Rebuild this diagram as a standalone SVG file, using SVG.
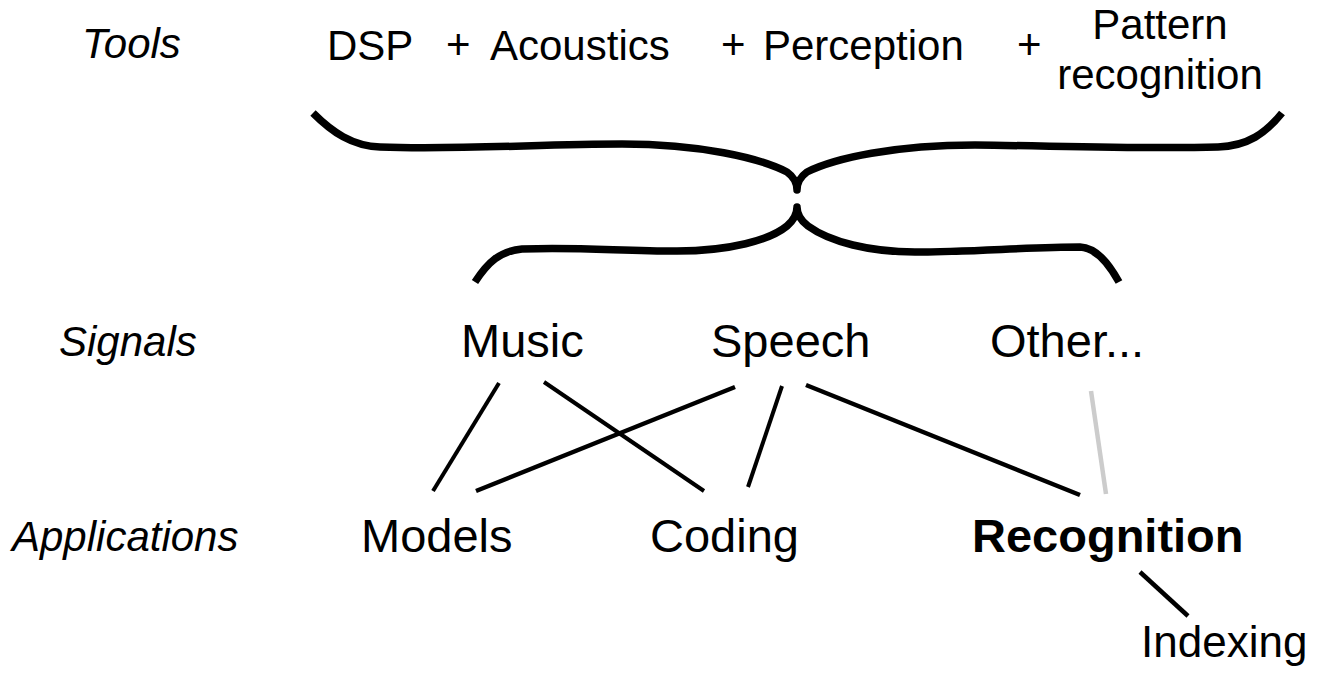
<svg xmlns="http://www.w3.org/2000/svg" width="1323" height="683" viewBox="0 0 1323 683">
  <style>
    text { font-family: "Liberation Sans", Arial, sans-serif; fill: #000; }
    .lbl { font-style: italic; font-size: 42px; }
    .tool { font-size: 42px; }
    .main { font-size: 47px; }
    .bold { font-size: 47px; font-weight: bold; }
    .brace { fill: none; stroke: #000; stroke-width: 7.5; stroke-linecap: butt; stroke-linejoin: round; }
    .edge { stroke: #000; stroke-width: 4.5; stroke-linecap: butt; }
    .edge.thin { stroke-width: 4; }
    .edge.faint { stroke: #cccccc; }
  </style>
  <rect width="1323" height="683" fill="#fff"/>

  <!-- row labels -->
  <g id="row-labels">
    <text class="lbl" x="82" y="58">Tools</text>
    <text class="lbl" x="59" y="356">Signals</text>
    <text class="lbl" x="12" y="551">Applications</text>
  </g>

  <!-- tools -->
  <g id="tools">
    <text class="tool" x="327" y="60">DSP</text>
    <text class="tool" x="446" y="59">+</text>
    <text class="tool" x="490" y="60">Acoustics</text>
    <text class="tool" x="721" y="59">+</text>
    <text class="tool" x="763" y="60">Perception</text>
    <text class="tool" x="1017" y="59">+</text>
    <text class="tool" x="1160" y="39" text-anchor="middle">Pattern</text>
    <text class="tool" x="1160" y="89" text-anchor="middle">recognition</text>
  </g>

  <!-- braces joining tools and signals -->
  <g id="braces">
    <path class="brace" d="M313,113 C332,132 352,146 380,147 C460,150 540,144 622,144 C700,144 760,158 787,172 C794,177 797,183 797,190 C797,183 800,177 807,172 C835,158 895,145 975,145 C1060,146 1140,149 1218,147 C1248,146 1266,133 1282,113"/>
    <path class="brace" d="M475,282 C488,262 500,251 522,249 C580,247 620,251 677,251 C730,251 770,240 787,226 C794,220 797,214 797,207 C797,214 800,220 808,226 C830,242 870,252 915,252 C970,252 1030,247 1080,247 C1096,248 1108,262 1119,282"/>
  </g>

  <!-- signals -->
  <g id="music"><text class="main" x="461" y="357">Music</text></g>
  <g id="speech"><text class="main" x="711" y="357">Speech</text></g>
  <g id="other"><text class="main" x="990" y="357">Other...</text></g>

  <!-- applications -->
  <g id="models"><text class="main" x="361" y="552">Models</text></g>
  <g id="coding"><text class="main" x="650" y="552">Coding</text></g>
  <g id="recognition"><text class="bold" x="972" y="552">Recognition</text></g>
  <g id="indexing"><text class="main" style="font-size:44px" x="1141" y="657">Indexing</text></g>

  <!-- connectors -->
  <g id="connectors">
    <line class="edge thin" x1="499" y1="383" x2="433" y2="491"/>
    <line class="edge thin" x1="544" y1="382" x2="704" y2="491"/>
    <line class="edge" x1="735" y1="387" x2="476" y2="491"/>
    <line class="edge thin" x1="782" y1="386" x2="748" y2="487"/>
    <line class="edge" x1="806" y1="385" x2="1080" y2="495"/>
    <line class="edge faint" x1="1091" y1="391" x2="1106" y2="494"/>
    <line class="edge" x1="1140" y1="572" x2="1188" y2="616"/>
  </g>
</svg>
